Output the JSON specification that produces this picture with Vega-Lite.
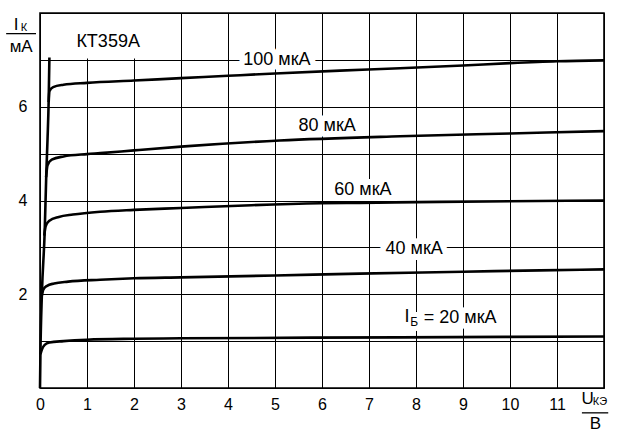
{
  "$schema": "https://vega.github.io/schema/vega-lite/v6.json",
  "width": 564,
  "height": 375,
  "autosize": "none",
  "padding": {"left": 40, "top": 13, "right": 16, "bottom": 50},
  "background": "white",
  "config": {
    "view": {"stroke": "black", "strokeWidth": 1.6},
    "font": "Liberation Sans",
    "text": {"font": "Liberation Sans", "color": "black"}
  },
  "datasets": {
    "curves": [
      {"series": "env", "x": 0, "y": 0},
      {"series": "env", "x": 0.01, "y": 0.8},
      {"series": "env", "x": 0.04, "y": 2.0},
      {"series": "env", "x": 0.1, "y": 3.34},
      {"series": "env", "x": 0.135, "y": 4.6},
      {"series": "env", "x": 0.16, "y": 5.3},
      {"series": "env", "x": 0.185, "y": 6.15},
      {"series": "env", "x": 0.2, "y": 7.05},

      {"series": "100", "x": 0.185, "y": 6.1},
      {"series": "100", "x": 0.2, "y": 6.33},
      {"series": "100", "x": 0.28, "y": 6.42},
      {"series": "100", "x": 0.5, "y": 6.47},
      {"series": "100", "x": 1, "y": 6.51},
      {"series": "100", "x": 2, "y": 6.56},
      {"series": "100", "x": 3, "y": 6.61},
      {"series": "100", "x": 4, "y": 6.66},
      {"series": "100", "x": 5, "y": 6.71},
      {"series": "100", "x": 6.38, "y": 6.77},
      {"series": "100", "x": 7.66, "y": 6.82},
      {"series": "100", "x": 9, "y": 6.88},
      {"series": "100", "x": 10, "y": 6.93},
      {"series": "100", "x": 11, "y": 6.97},
      {"series": "100", "x": 12, "y": 6.99},

      {"series": "80", "x": 0.13, "y": 4.5},
      {"series": "80", "x": 0.16, "y": 4.75},
      {"series": "80", "x": 0.25, "y": 4.87},
      {"series": "80", "x": 0.5, "y": 4.94},
      {"series": "80", "x": 1, "y": 4.99},
      {"series": "80", "x": 1.28, "y": 5.01},
      {"series": "80", "x": 2, "y": 5.07},
      {"series": "80", "x": 3, "y": 5.15},
      {"series": "80", "x": 5.1, "y": 5.28},
      {"series": "80", "x": 7.66, "y": 5.37},
      {"series": "80", "x": 10, "y": 5.43},
      {"series": "80", "x": 12, "y": 5.48},

      {"series": "60", "x": 0.09, "y": 3.25},
      {"series": "60", "x": 0.12, "y": 3.45},
      {"series": "60", "x": 0.2, "y": 3.57},
      {"series": "60", "x": 0.4, "y": 3.65},
      {"series": "60", "x": 0.7, "y": 3.7},
      {"series": "60", "x": 1.28, "y": 3.76},
      {"series": "60", "x": 2, "y": 3.8},
      {"series": "60", "x": 3, "y": 3.84},
      {"series": "60", "x": 4.5, "y": 3.9},
      {"series": "60", "x": 5.96, "y": 3.94},
      {"series": "60", "x": 6.8, "y": 3.95},
      {"series": "60", "x": 8.5, "y": 3.97},
      {"series": "60", "x": 10.6, "y": 3.99},
      {"series": "60", "x": 12, "y": 4.0},

      {"series": "40", "x": 0.035, "y": 1.95},
      {"series": "40", "x": 0.07, "y": 2.1},
      {"series": "40", "x": 0.15, "y": 2.18},
      {"series": "40", "x": 0.3, "y": 2.23},
      {"series": "40", "x": 0.6, "y": 2.27},
      {"series": "40", "x": 1.28, "y": 2.31},
      {"series": "40", "x": 2, "y": 2.34},
      {"series": "40", "x": 3, "y": 2.36},
      {"series": "40", "x": 5, "y": 2.4},
      {"series": "40", "x": 6.8, "y": 2.44},
      {"series": "40", "x": 9, "y": 2.48},
      {"series": "40", "x": 10.64, "y": 2.51},
      {"series": "40", "x": 12, "y": 2.53},

      {"series": "20", "x": 0.01, "y": 0.72},
      {"series": "20", "x": 0.04, "y": 0.82},
      {"series": "20", "x": 0.1, "y": 0.92},
      {"series": "20", "x": 0.2, "y": 0.97},
      {"series": "20", "x": 0.5, "y": 1.0},
      {"series": "20", "x": 1, "y": 1.03},
      {"series": "20", "x": 2, "y": 1.05},
      {"series": "20", "x": 3, "y": 1.06},
      {"series": "20", "x": 7.66, "y": 1.08},
      {"series": "20", "x": 12, "y": 1.1}
    ],
    "big": [
      {"text": "100 мкА", "x": 5.04, "y": 6.99},
      {"text": "80 мкА", "x": 6.11, "y": 5.6},
      {"text": "60 мкА", "x": 6.87, "y": 4.22},
      {"text": "40 мкА", "x": 7.96, "y": 2.97},
      {"text": "I", "x": 7.81, "y": 1.51},
      {"text": "= 20 мкА", "x": 8.94, "y": 1.5},
      {"text": "КТ359А", "x": 1.45, "y": 7.39}
    ],
    "small": [
      {"text": "Б", "x": 7.96, "y": 1.41}
    ],
    "notes": [
      {"text": "I", "x": -0.51, "y": 7.74},
      {"text": "мА", "x": -0.4, "y": 7.28},
      {"text": "U", "x": 11.65, "y": -0.235},
      {"text": "В", "x": 11.82, "y": -0.76}
    ],
    "notesSmall": [
      {"text": "К", "x": -0.34, "y": 7.67},
      {"text": "КЭ", "x": 11.915, "y": -0.3}
    ],
    "fractions": [
      {"x": -0.72, "x2": -0.085, "y": 7.56},
      {"x": 11.53, "x2": 12.09, "y": -0.53}
    ],
    "box": [
      {"x": 0.03, "x2": 2.55, "y": 7.03, "y2": 7.98}
    ]
  },
  "encoding": {
    "x": {
      "field": "x", "type": "quantitative",
      "scale": {"domain": [0, 12], "nice": false, "zero": false},
      "axis": {
        "values": [0, 1, 2, 3, 4, 5, 6, 7, 8, 9, 10, 11, 12],
        "labelExpr": "datum.value < 12 ? datum.label : ''",
        "grid": true, "gridColor": "black", "gridOpacity": 1, "gridWidth": 1,
        "domain": false, "ticks": false,
        "labelFont": "Liberation Sans", "labelFontSize": 16, "labelColor": "black",
        "labelPadding": 8, "labelFlush": false, "labelOverlap": false,
        "title": null
      }
    },
    "y": {
      "field": "y", "type": "quantitative",
      "scale": {"domain": [0, 8], "nice": false, "zero": false},
      "axis": {
        "values": [0, 1, 2, 3, 4, 5, 6, 7, 8],
        "labelExpr": "(datum.value == 2 || datum.value == 4 || datum.value == 6) ? datum.label : ''",
        "grid": true, "gridColor": "black", "gridOpacity": 1, "gridWidth": 1,
        "domain": false, "ticks": false,
        "labelFont": "Liberation Sans", "labelFontSize": 16, "labelColor": "black",
        "labelPadding": 13, "labelFlush": false, "labelOverlap": false,
        "title": null
      }
    }
  },
  "layer": [
    {
      "data": {"name": "box"},
      "mark": {"type": "rect", "fill": "white", "stroke": null},
      "encoding": {"x2": {"field": "x2"}, "y2": {"field": "y2"}}
    },
    {
      "data": {"name": "big"},
      "mark": {"type": "text", "fontSize": 18, "baseline": "middle", "align": "center", "fill": "white", "stroke": "white", "strokeWidth": 12, "strokeJoin": "round"},
      "encoding": {"text": {"field": "text"}}
    },
    {
      "data": {"name": "small"},
      "mark": {"type": "text", "fontSize": 12, "baseline": "middle", "align": "center", "fill": "white", "stroke": "white", "strokeWidth": 10, "strokeJoin": "round"},
      "encoding": {"text": {"field": "text"}}
    },
    {
      "data": {"name": "curves"},
      "mark": {"type": "line", "color": "black", "strokeWidth": 2.6, "interpolate": "monotone"},
      "encoding": {"detail": {"field": "series"}}
    },
    {
      "data": {"name": "big"},
      "mark": {"type": "text", "fontSize": 18, "baseline": "middle", "align": "center", "color": "black"},
      "encoding": {"text": {"field": "text"}}
    },
    {
      "data": {"name": "small"},
      "mark": {"type": "text", "fontSize": 12, "baseline": "middle", "align": "center", "color": "black"},
      "encoding": {"text": {"field": "text"}}
    },
    {
      "data": {"name": "notes"},
      "mark": {"type": "text", "fontSize": 17, "baseline": "middle", "align": "center", "color": "black"},
      "encoding": {"text": {"field": "text"}}
    },
    {
      "data": {"name": "notesSmall"},
      "mark": {"type": "text", "fontSize": 11, "baseline": "middle", "align": "center", "color": "black"},
      "encoding": {"text": {"field": "text"}}
    },
    {
      "data": {"name": "fractions"},
      "mark": {"type": "rule", "color": "black", "strokeWidth": 1.3},
      "encoding": {"x2": {"field": "x2"}}
    }
  ]
}
